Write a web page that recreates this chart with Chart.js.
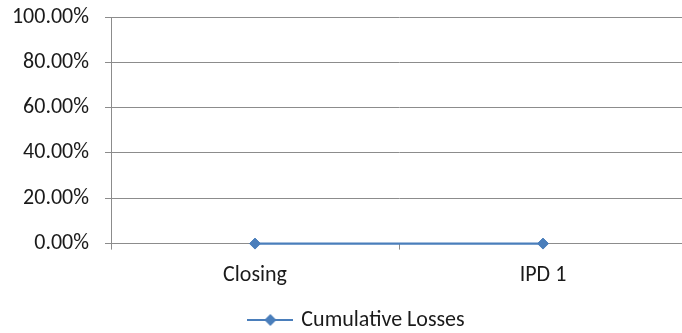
<!DOCTYPE html>
<html>
<head>
<meta charset="utf-8">
<script src="https://cdn.jsdelivr.net/npm/chart.js@4/dist/chart.umd.min.js"></script>
<style>
    html, body { margin: 0; padding: 0; background: #fff; overflow: hidden; }
    #wrap { width: 700px; height: 341px; }
</style>
</head>
<body>
<div id="wrap"><canvas id="lossChart" width="700" height="341"></canvas></div>
<script>
// Chart data
const categories = ['Closing', 'IPD 1'];
const cumulativeLosses = [0, 0];
const yTicks = [0, 20, 40, 60, 80, 100];
const seriesName = 'Cumulative Losses';

const lineColor = '#4a7ebb';
const gridColor = '#8c8c8c';
const textColor = '#1a1a1a';
const fontFamily = 'Carlito, Calibri, Lato, sans-serif';
const fontSize = 22;

// Legend marker: short line with a diamond in the middle
function makeLegendMarker() {
    const c = document.createElement('canvas');
    c.width = 46;
    c.height = 14;
    const g = c.getContext('2d');
    g.strokeStyle = lineColor;
    g.lineWidth = 2;
    g.beginPath();
    g.moveTo(0, 7);
    g.lineTo(46, 7);
    g.stroke();
    g.fillStyle = lineColor;
    g.beginPath();
    g.moveTo(23, 1);
    g.lineTo(29, 7);
    g.lineTo(23, 13);
    g.lineTo(17, 7);
    g.closePath();
    g.fill();
    return c;
}

const legendMarker = makeLegendMarker();

// The legend sits centred under the plot area rather than the whole canvas
const legendShift = {
    id: 'legendShift',
    afterLayout(chart) {
        const lg = chart.legend;
        if (lg) {
            lg.left += 14;
            lg.right += 14;
        }
    }
};

const ctx = document.getElementById('lossChart').getContext('2d');
new Chart(ctx, {
    type: 'line',
    data: {
        labels: categories,
        datasets: [{
            label: seriesName,
            data: cumulativeLosses,
            borderColor: lineColor,
            backgroundColor: lineColor,
            borderWidth: 2.25,
            pointStyle: 'rectRot',
            pointRadius: 5.5,
            pointBorderWidth: 1,
            pointBackgroundColor: lineColor,
            pointBorderColor: lineColor,
            tension: 0,
            fill: false,
            clip: false
        }]
    },
    plugins: [legendShift],
    options: {
        responsive: false,
        animation: false,
        layout: {
            padding: { left: 0, right: 13, top: 17, bottom: 0 }
        },
        plugins: {
            tooltip: { enabled: false },
            legend: {
                position: 'bottom',
                labels: {
                    usePointStyle: true,
                    pointStyleWidth: 40,
                    padding: 7,
                    color: textColor,
                    font: { family: fontFamily, size: fontSize },
                    generateLabels: function(chart) {
                        return chart.data.datasets.map((ds, i) => ({
                            text: ds.label,
                            pointStyle: legendMarker,
                            fillStyle: lineColor,
                            strokeStyle: lineColor,
                            lineWidth: 0,
                            fontColor: textColor,
                            datasetIndex: i
                        }));
                    }
                }
            }
        },
        scales: {
            x: {
                offset: true,
                grid: {
                    display: true,
                    drawOnChartArea: false,
                    drawTicks: true,
                    tickLength: 6,
                    color: gridColor,
                    offset: true
                },
                border: { display: true, color: gridColor, width: 1 },
                ticks: {
                    color: textColor,
                    font: { family: fontFamily, size: fontSize },
                    padding: 13,
                    maxRotation: 0
                }
            },
            y: {
                min: yTicks[0],
                max: yTicks[yTicks.length - 1],
                afterFit: function(scale) {
                    scale.width = 111;
                    scale.paddingTop = 0;
                    scale.paddingBottom = 0;
                },
                afterBuildTicks: function(scale) {
                    scale.ticks = yTicks.map(v => ({ value: v }));
                },
                grid: {
                    color: gridColor,
                    tickLength: 6,
                    drawTicks: true
                },
                border: { display: true, color: gridColor, width: 1 },
                ticks: {
                    color: textColor,
                    font: { family: fontFamily, size: fontSize },
                    padding: 16,
                    callback: function(value) {
                        return value.toFixed(2) + '%';
                    }
                }
            }
        }
    }
});
</script>
</body>
</html>
